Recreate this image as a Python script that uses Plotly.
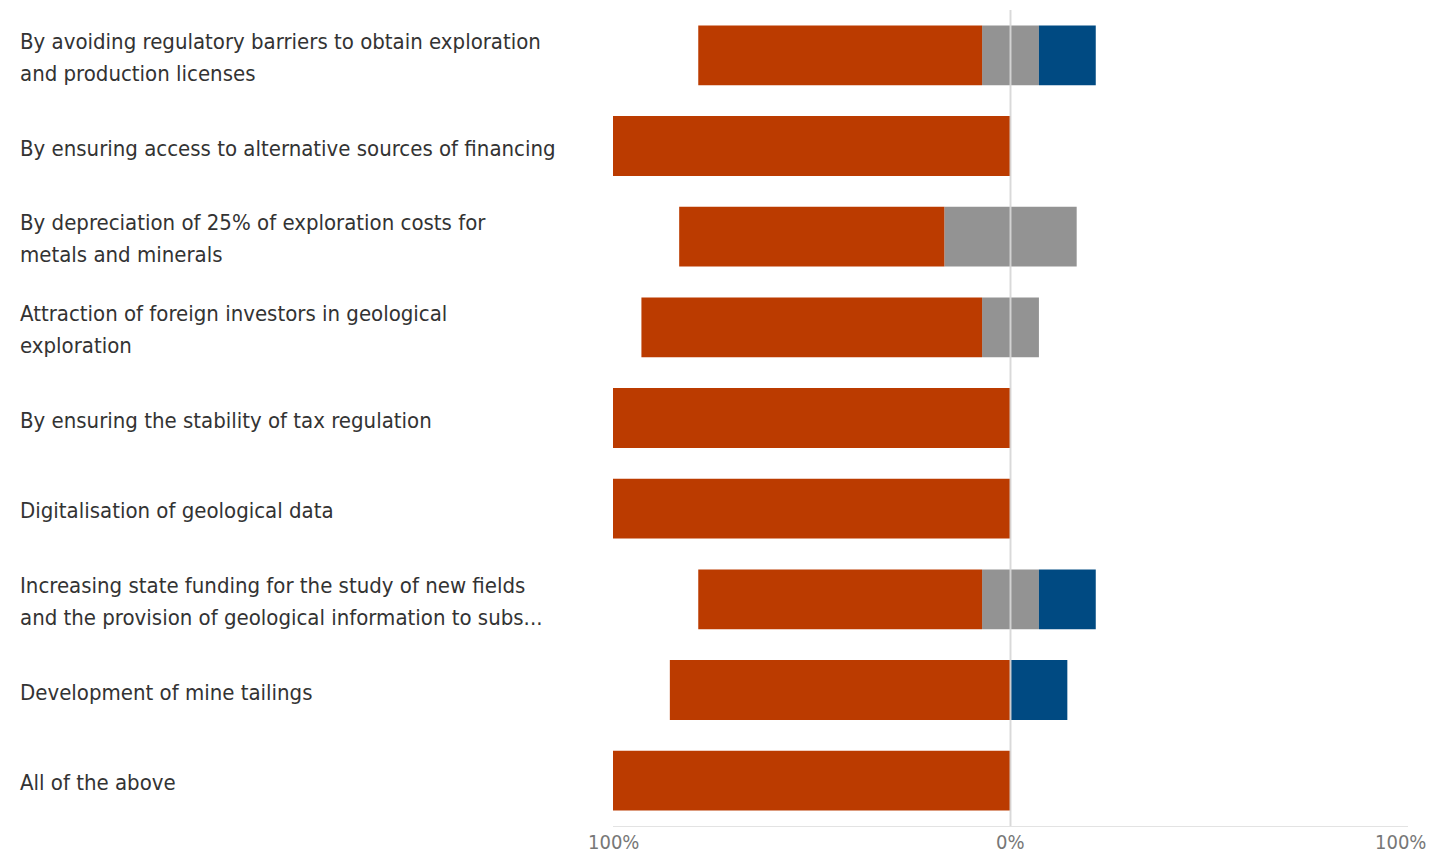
import plotly.graph_objects as go

categories = [
    "By avoiding regulatory barriers to obtain exploration<br>and production licenses",
    "By ensuring access to alternative sources of financing",
    "By depreciation of 25% of exploration costs for<br>metals and minerals",
    "Attraction of foreign investors in geological<br>exploration",
    "By ensuring the stability of tax regulation",
    "Digitalisation of geological data",
    "Increasing state funding for the study of new fields<br>and the provision of geological information to subs...",
    "Development of mine tailings",
    "All of the above",
]
negative = [71.4, 100, 66.7, 85.7, 100, 100, 71.4, 85.7, 100]
neutral = [14.3, 0, 33.3, 14.3, 0, 0, 14.3, 0, 0]
positive = [14.3, 0, 0, 0, 0, 0, 14.3, 14.3, 0]
tick_vals = [-100, 0, 100]
tick_text = ["100%", "0%", "100%"]

RED = "#BB3B00"
GREY = "#939393"
BLUE = "#004A82"
FONT = "Liberation Sans Narrow, DejaVu Sans Condensed, Arial Narrow, sans-serif"

ids = list(range(len(categories)))
half_neu = [v / 2 for v in neutral]

fig = go.Figure()
fig.add_trace(go.Bar(y=ids, x=[-v for v in half_neu], orientation="h",
                     marker=dict(color=GREY, line=dict(width=0)), name="Neutral", hoverinfo="skip"))
fig.add_trace(go.Bar(y=ids, x=[-v for v in negative], orientation="h",
                     marker=dict(color=RED, line=dict(width=0)), name="Negative"))
fig.add_trace(go.Bar(y=ids, x=half_neu, orientation="h",
                     marker=dict(color=GREY, line=dict(width=0)), name="Neutral ", hoverinfo="skip"))
fig.add_trace(go.Bar(y=ids, x=positive, orientation="h",
                     marker=dict(color=BLUE, line=dict(width=0)), name="Positive"))

annotations = []
for i, lab in enumerate(categories):
    lines = lab.split("<br>")
    n = len(lines)
    for j, ln in enumerate(lines):
        shift = (n - 1) * 16 - j * 32 - 2
        annotations.append(dict(
            x=0, xref="paper", xshift=-595, y=i, yref="y", yshift=shift,
            text=ln, showarrow=False, xanchor="left", yanchor="middle",
            align="left", font=dict(family=FONT, size=22, color="#333333"),
        ))

# x-axis tick labels (placed at the axis tick values)
for k, (tv, tt) in enumerate(zip(tick_vals, tick_text)):
    annotations.append(dict(
        x=tv, xref="x", y=0, yref="paper", yshift=-2,
        xshift=(-8 if k == len(tick_vals) - 1 else 0),
        text=tt, showarrow=False, xanchor="center", yanchor="top",
        font=dict(family=FONT, size=20, color="#777777"),
    ))

fig.add_shape(type="line", xref="x", yref="paper", x0=0, x1=0, y0=0, y1=1,
              line=dict(color="rgba(215,215,215,0.9)", width=2), layer="above")

fig.update_layout(
    width=1424, height=846,
    barmode="relative", bargap=0.34,
    showlegend=False,
    plot_bgcolor="white", paper_bgcolor="white",
    margin=dict(l=605, r=24, t=2, b=28),
    annotations=annotations,
    xaxis=dict(range=[-100, 100], tickvals=tick_vals, showticklabels=False,
               showgrid=True, gridcolor="#E3E3E3", gridwidth=1, zeroline=False,
               showline=True, linecolor="#E3E3E3", ticklen=0, ticks="",
               automargin=False),
    yaxis=dict(range=[len(categories) - 0.5, -0.5], showticklabels=False,
               showgrid=False, zeroline=False, tickmode="array", tickvals=ids,
               automargin=False),
)

fig.write_html("out.html")
